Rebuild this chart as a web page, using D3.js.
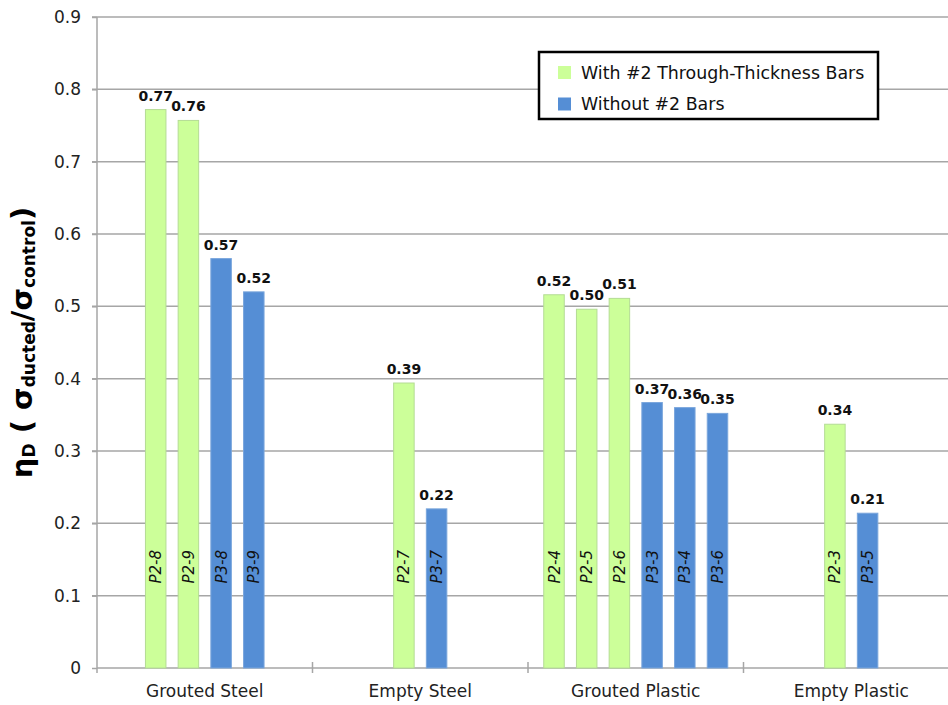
<!DOCTYPE html>
<html>
<head>
<meta charset="utf-8">
<script src="https://cdn.jsdelivr.net/npm/d3@7/dist/d3.min.js"></script>
<style>
  html, body { margin: 0; padding: 0; background: #ffffff; }
  svg { display: block; font-family: "DejaVu Sans", Verdana, sans-serif; }
</style>
</head>
<body>
<svg id="chart" width="948" height="705"></svg>
<script>
// Duct groups along the x axis
const categories = ["Grouted Steel", "Empty Steel", "Grouted Plastic", "Empty Plastic"];

// Specimen ids in each group, in drawing order
const specimens = [
  ["P2-8", "P2-9", "P3-8", "P3-9"],
  ["P2-7", "P3-7"],
  ["P2-4", "P2-5", "P2-6", "P3-3", "P3-4", "P3-6"],
  ["P2-3", "P3-5"]
];

// Duct efficiency factor for each specimen
const etaValues = [
  [0.772, 0.757, 0.566, 0.520],
  [0.394, 0.220],
  [0.516, 0.496, 0.511, 0.367, 0.360, 0.352],
  [0.337, 0.214]
];

// Series membership: P2 specimens have through-thickness bars
const seriesNames = ["With #2 Through-Thickness Bars", "Without #2 Bars"];
const seriesColors = ["#ccff99", "#558ed5"];
const seriesStrokes = ["#b4dc94", "#7aa6dc"];

const yTicks = [0, 0.1, 0.2, 0.3, 0.4, 0.5, 0.6, 0.7, 0.8, 0.9];

const svg = d3.select("#chart");
const margin = { left: 97, top: 17, bottom: 37 };
const plotRight = 959;
const H = 705;

const x0 = d3.scaleBand().domain(categories).range([margin.left, plotRight]).padding(0);
const y = d3.scaleLinear().domain([0, 0.9]).range([H - margin.bottom, margin.top]);

const barStep = 32.7;

// Gridlines
svg.append("g")
  .selectAll("line")
  .data(yTicks.filter(d => d > 0))
  .join("line")
  .attr("x1", margin.left - 5)
  .attr("x2", plotRight)
  .attr("y1", d => y(d))
  .attr("y2", d => y(d))
  .attr("stroke", "#a6a6a6")
  .attr("stroke-width", 1.5);

// Y axis
const yAxis = d3.axisLeft(y).tickValues(yTicks).tickSize(5).tickPadding(11)
  .tickFormat(d => d === 0 ? "0" : d3.format(".1f")(d));
const gy = svg.append("g").attr("transform", `translate(${margin.left},0)`).call(yAxis);
gy.select(".domain").remove();
gy.selectAll(".tick line").attr("stroke", "#a6a6a6").attr("stroke-width", 1.5);
gy.selectAll(".tick text")
  .attr("fill", "#222")
  .style("font-size", "17px")
  .style("font-family", "'DejaVu Sans', Verdana, sans-serif");
svg.append("line")
  .attr("x1", margin.left).attr("x2", margin.left)
  .attr("y1", margin.top).attr("y2", y(0) + 5)
  .attr("stroke", "#a6a6a6").attr("stroke-width", 1.5);

// X axis baseline and category separators
svg.append("line")
  .attr("x1", margin.left).attr("x2", plotRight)
  .attr("y1", y(0)).attr("y2", y(0))
  .attr("stroke", "#a6a6a6").attr("stroke-width", 1.5);
svg.append("g")
  .selectAll("line")
  .data(categories.slice(1))
  .join("line")
  .attr("x1", d => x0(d)).attr("x2", d => x0(d))
  .attr("y1", y(0) - 6).attr("y2", y(0) + 5)
  .attr("stroke", "#a6a6a6").attr("stroke-width", 1.5);

svg.append("g")
  .selectAll("text")
  .data(categories)
  .join("text")
  .attr("x", d => x0(d) + x0.bandwidth() / 2)
  .attr("y", 697)
  .attr("text-anchor", "middle")
  .attr("fill", "#222")
  .style("font-size", "17px")
  .text(d => d);

// Bars per group
categories.forEach((cat, ci) => {
  const ids = specimens[ci];
  const center = x0(cat) + x0.bandwidth() / 2;
  const half = ids.length * barStep / 2;
  const x1 = d3.scaleBand().domain(ids).range([center - half, center + half])
    .paddingInner(0.373).paddingOuter(0.1865);
  const rows = ids.map((id, i) => ({
    id, value: etaValues[ci][i], series: id.startsWith("P2") ? 0 : 1
  }));
  const g = svg.append("g");
  g.selectAll("rect")
    .data(rows)
    .join("rect")
    .attr("x", d => x1(d.id))
    .attr("width", x1.bandwidth())
    .attr("y", d => y(d.value))
    .attr("height", d => y(0) - y(d.value))
    .attr("fill", d => seriesColors[d.series])
    .attr("stroke", d => seriesStrokes[d.series])
    .attr("stroke-width", 1);
  g.selectAll("text.val")
    .data(rows)
    .join("text")
    .attr("class", "val")
    .attr("x", d => x1(d.id) + x1.bandwidth() / 2)
    .attr("y", d => y(d.value) - 9)
    .attr("text-anchor", "middle")
    .attr("fill", "#111")
    .style("font-size", "14px")
    .style("font-weight", "bold")
    .text(d => d3.format(".2f")(d.value));
  g.selectAll("text.id")
    .data(rows)
    .join("text")
    .attr("class", "id")
    .attr("transform", d => `translate(${x1(d.id) + x1.bandwidth() / 2 + 5.5},${y(0.14)}) rotate(-90)`)
    .attr("text-anchor", "middle")
    .attr("fill", "#111")
    .style("font-size", "15px")
    .style("font-style", "italic")
    .text(d => d.id);
});

// Y axis title: eta_D (sigma_ducted / sigma_control)
const yt = svg.append("text")
  .attr("transform", `translate(32,${(y(0) + y(0.9)) / 2}) rotate(-90)`)
  .attr("text-anchor", "middle")
  .attr("fill", "#000")
  .style("font-weight", "bold")
  .style("font-size", "29px");
yt.append("tspan").text("η");
yt.append("tspan").attr("dy", 3).style("font-size", "17px").text("D");
yt.append("tspan").attr("dy", -3).text(" ( σ");
yt.append("tspan").attr("dy", 3).style("font-size", "17px").text("ducted");
yt.append("tspan").attr("dy", -3).text("/σ");
yt.append("tspan").attr("dy", 3).style("font-size", "17px").text("control");
yt.append("tspan").attr("dy", -3).text(")");

// Legend
const lg = svg.append("g");
lg.append("rect")
  .attr("x", 539).attr("y", 52).attr("width", 339).attr("height", 67)
  .attr("fill", "#fff").attr("stroke", "#000").attr("stroke-width", 2.5);
seriesNames.forEach((name, i) => {
  lg.append("rect")
    .attr("x", 558).attr("y", 66 + i * 31.5).attr("width", 13).attr("height", 13)
    .attr("fill", seriesColors[i]);
  lg.append("text")
    .attr("x", 581).attr("y", 78.5 + i * 31.5)
    .attr("fill", "#111")
    .style("font-size", "17.4px")
    .text(name);
});
</script>
</body>
</html>
